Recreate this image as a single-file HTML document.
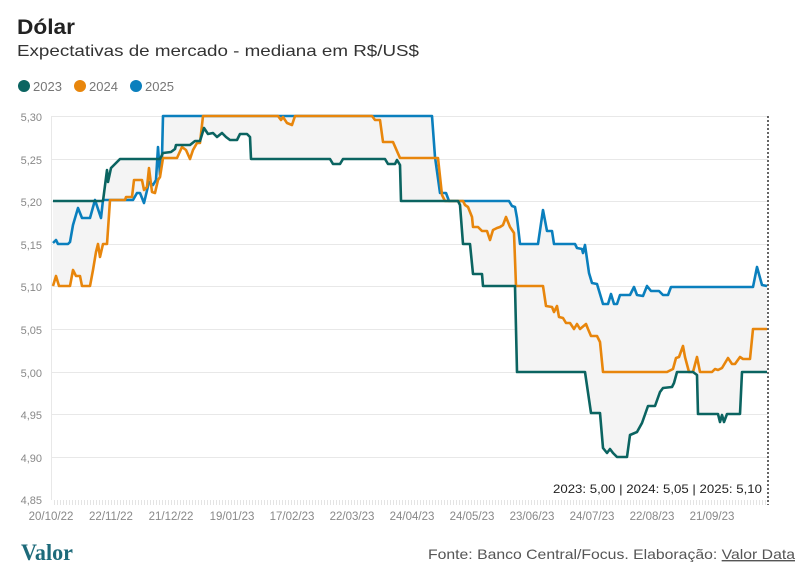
<!DOCTYPE html>
<html><head><meta charset="utf-8"><style>
html,body{margin:0;padding:0;background:#fff;width:812px;height:578px;overflow:hidden;font-family:"Liberation Sans",sans-serif}
</style></head><body>
<svg width="812" height="578" xmlns="http://www.w3.org/2000/svg" font-family="Liberation Sans, sans-serif">
<defs>
<clipPath id="under">
<polygon points="53,201 103,201 107,170 108,182 111,168 120,159 160,159 163,153 171,152 175,149 176,145 190,145 195,141 200,141 204,128 208,134 213,133 217,137 222,133 226,137 230,140 237,140 240,134 247,134 250,137 251,159 330,159 333,164 340,164 343,159 385,159 388,164 395,164 397,160 400,165 401,201 458,201 460,205 463,244 470,244 473,274 482,274 483,286 515,286 517,372 585,372 591,413 600,413 603,448 607,453 610,449 613,453 617,457 627,457 630,435 637,432 642,423 648,406 655,406 660,392 663,388 672,387 674,383 677,372 693,372 697,375 698,414 718,414 720,422 722,415 724,422 727,414 740,414 742,372 767,372 767,520 53,520"/>
<polygon points="53,286 56,276 59,286 70,286 73,270 76,276 80,276 82,286 90,286 93,270 96,252 98,244 100,257 103,244 107,244 109,215 110,200 125,200 126,197 132,197 134,180 142,180 144,190 147,187 149,168 152,192 155,193 158,180 160,177 163,158 177,158 182,147 186,150 190,159 193,150 197,143 200,143 203,116 278,116 281,120 283,117 287,123 292,125 295,116 372,116 375,120 380,120 383,142 393,142 400,158 438,158 442,195 445,201 463,201 465,205 468,207 472,217 473,227 478,227 482,231 487,231 490,240 493,230 497,228 500,227 503,225 506,217 510,227 514,233 516,286 543,286 546,306 552,307 554,312 557,306 559,317 563,318 566,323 570,323 574,329 577,324 580,329 586,324 588,329 591,336 597,336 600,342 603,372 667,372 673,369 676,358 679,357 683,346 685,357 689,372 693,372 697,357 700,372 712,372 715,369 718,370 722,368 728,358 732,364 735,364 740,357 743,359 750,359 753,329 767,329 767,520 53,520"/>
<polygon points="53,243 56,240 58,244 68,244 70,242 73,225 78,208 82,218 90,218 95,200 101,218 103,200 133,200 137,193 140,193 144,203 149,182 153,185 156,180 158,147 160,175 162,157 163,116 432,116 435,157 440,193 446,193 449,201 509,201 512,206 515,207 517,218 520,244 538,244 543,210 547,231 552,231 554,244 575,244 577,248 582,249 583,253 585,245 589,273 592,283 597,284 603,304 608,304 611,294 614,304 617,304 620,295 630,295 634,287 637,295 643,296 647,286 651,291 659,291 663,295 668,295 671,287 753,287 757,267 762,285 767,286 767,520 53,520"/>
</clipPath>
<clipPath id="above">
<polygon points="53,201 103,201 107,170 108,182 111,168 120,159 160,159 163,153 171,152 175,149 176,145 190,145 195,141 200,141 204,128 208,134 213,133 217,137 222,133 226,137 230,140 237,140 240,134 247,134 250,137 251,159 330,159 333,164 340,164 343,159 385,159 388,164 395,164 397,160 400,165 401,201 458,201 460,205 463,244 470,244 473,274 482,274 483,286 515,286 517,372 585,372 591,413 600,413 603,448 607,453 610,449 613,453 617,457 627,457 630,435 637,432 642,423 648,406 655,406 660,392 663,388 672,387 674,383 677,372 693,372 697,375 698,414 718,414 720,422 722,415 724,422 727,414 740,414 742,372 767,372 767,100 53,100"/>
<polygon points="53,286 56,276 59,286 70,286 73,270 76,276 80,276 82,286 90,286 93,270 96,252 98,244 100,257 103,244 107,244 109,215 110,200 125,200 126,197 132,197 134,180 142,180 144,190 147,187 149,168 152,192 155,193 158,180 160,177 163,158 177,158 182,147 186,150 190,159 193,150 197,143 200,143 203,116 278,116 281,120 283,117 287,123 292,125 295,116 372,116 375,120 380,120 383,142 393,142 400,158 438,158 442,195 445,201 463,201 465,205 468,207 472,217 473,227 478,227 482,231 487,231 490,240 493,230 497,228 500,227 503,225 506,217 510,227 514,233 516,286 543,286 546,306 552,307 554,312 557,306 559,317 563,318 566,323 570,323 574,329 577,324 580,329 586,324 588,329 591,336 597,336 600,342 603,372 667,372 673,369 676,358 679,357 683,346 685,357 689,372 693,372 697,357 700,372 712,372 715,369 718,370 722,368 728,358 732,364 735,364 740,357 743,359 750,359 753,329 767,329 767,100 53,100"/>
<polygon points="53,243 56,240 58,244 68,244 70,242 73,225 78,208 82,218 90,218 95,200 101,218 103,200 133,200 137,193 140,193 144,203 149,182 153,185 156,180 158,147 160,175 162,157 163,116 432,116 435,157 440,193 446,193 449,201 509,201 512,206 515,207 517,218 520,244 538,244 543,210 547,231 552,231 554,244 575,244 577,248 582,249 583,253 585,245 589,273 592,283 597,284 603,304 608,304 611,294 614,304 617,304 620,295 630,295 634,287 637,295 643,296 647,286 651,291 659,291 663,295 668,295 671,287 753,287 757,267 762,285 767,286 767,100 53,100"/>
</clipPath>
<pattern id="hatch" width="3" height="5" patternUnits="userSpaceOnUse"><rect width="3" height="5" fill="#fff"/><rect width="1" height="5" fill="#e4e4e4"/></pattern>
</defs>

<text x="17" y="34" font-size="21" font-weight="bold" fill="#222" textLength="58" lengthAdjust="spacingAndGlyphs">Dólar</text>
<text x="17" y="56" font-size="16" fill="#333" textLength="402" lengthAdjust="spacingAndGlyphs">Expectativas de mercado - mediana em R$/US$</text>
<circle cx="24" cy="86" r="6" fill="#0b6461"/><text x="33" y="91" font-size="13" fill="#777">2023</text>
<circle cx="80" cy="86" r="6" fill="#e8860c"/><text x="89" y="91" font-size="13" fill="#777">2024</text>
<circle cx="136" cy="86" r="6" fill="#0a7fbd"/><text x="145" y="91" font-size="13" fill="#777">2025</text>

<g stroke="#e8e8e8" stroke-width="1">
<line x1="52" y1="116.5" x2="768" y2="116.5"/><line x1="52" y1="159.5" x2="768" y2="159.5"/><line x1="52" y1="201.5" x2="768" y2="201.5"/><line x1="52" y1="244.5" x2="768" y2="244.5"/><line x1="52" y1="286.5" x2="768" y2="286.5"/><line x1="52" y1="329.5" x2="768" y2="329.5"/><line x1="52" y1="372.5" x2="768" y2="372.5"/><line x1="52" y1="414.5" x2="768" y2="414.5"/><line x1="52" y1="457.5" x2="768" y2="457.5"/>
<line x1="51.5" y1="116" x2="51.5" y2="500"/>
</g>
<rect x="52" y="500" width="716" height="5" fill="url(#hatch)"/>
<g fill="#888" font-size="11" text-anchor="end">
<text x="42" y="121">5,30</text><text x="42" y="164">5,25</text><text x="42" y="206">5,20</text><text x="42" y="249">5,15</text><text x="42" y="291">5,10</text><text x="42" y="334">5,05</text><text x="42" y="377">5,00</text><text x="42" y="419">4,95</text><text x="42" y="462">4,90</text><text x="42" y="504">4,85</text>
</g>
<g fill="#888" font-size="11.5" text-anchor="middle">
<text x="51" y="520">20/10/22</text><text x="111" y="520">22/11/22</text><text x="171" y="520">21/12/22</text><text x="232" y="520">19/01/23</text><text x="292" y="520">17/02/23</text><text x="352" y="520">22/03/23</text><text x="412" y="520">24/04/23</text><text x="472" y="520">24/05/23</text><text x="532" y="520">23/06/23</text><text x="592" y="520">24/07/23</text><text x="652" y="520">22/08/23</text><text x="712" y="520">21/09/23</text>
</g>

<g clip-path="url(#under)"><rect x="50" y="100" width="720" height="420" fill="#f4f4f4" clip-path="url(#above)"/></g>

<g fill="none" stroke-width="2.6" stroke-linejoin="round">
<polyline stroke="#0a7fbd" points="53,243 56,240 58,244 68,244 70,242 73,225 78,208 82,218 90,218 95,200 101,218 103,200 133,200 137,193 140,193 144,203 149,182 153,185 156,180 158,147 160,175 162,157 163,116 432,116 435,157 440,193 446,193 449,201 509,201 512,206 515,207 517,218 520,244 538,244 543,210 547,231 552,231 554,244 575,244 577,248 582,249 583,253 585,245 589,273 592,283 597,284 603,304 608,304 611,294 614,304 617,304 620,295 630,295 634,287 637,295 643,296 647,286 651,291 659,291 663,295 668,295 671,287 753,287 757,267 762,285 767,286"/>
<polyline stroke="#e8860c" points="53,286 56,276 59,286 70,286 73,270 76,276 80,276 82,286 90,286 93,270 96,252 98,244 100,257 103,244 107,244 109,215 110,200 125,200 126,197 132,197 134,180 142,180 144,190 147,187 149,168 152,192 155,193 158,180 160,177 163,158 177,158 182,147 186,150 190,159 193,150 197,143 200,143 203,116 278,116 281,120 283,117 287,123 292,125 295,116 372,116 375,120 380,120 383,142 393,142 400,158 438,158 442,195 445,201 463,201 465,205 468,207 472,217 473,227 478,227 482,231 487,231 490,240 493,230 497,228 500,227 503,225 506,217 510,227 514,233 516,286 543,286 546,306 552,307 554,312 557,306 559,317 563,318 566,323 570,323 574,329 577,324 580,329 586,324 588,329 591,336 597,336 600,342 603,372 667,372 673,369 676,358 679,357 683,346 685,357 689,372 693,372 697,357 700,372 712,372 715,369 718,370 722,368 728,358 732,364 735,364 740,357 743,359 750,359 753,329 767,329"/>
<polyline stroke="#0b6461" points="53,201 103,201 107,170 108,182 111,168 120,159 160,159 163,153 171,152 175,149 176,145 190,145 195,141 200,141 204,128 208,134 213,133 217,137 222,133 226,137 230,140 237,140 240,134 247,134 250,137 251,159 330,159 333,164 340,164 343,159 385,159 388,164 395,164 397,160 400,165 401,201 458,201 460,205 463,244 470,244 473,274 482,274 483,286 515,286 517,372 585,372 591,413 600,413 603,448 607,453 610,449 613,453 617,457 627,457 630,435 637,432 642,423 648,406 655,406 660,392 663,388 672,387 674,383 677,372 693,372 697,375 698,414 718,414 720,422 722,415 724,422 727,414 740,414 742,372 767,372"/>
</g>
<line x1="768" y1="116" x2="768" y2="505" stroke="#333" stroke-width="1.5" stroke-dasharray="2,2"/>
<text x="762" y="493" font-size="12" fill="#222" text-anchor="end" textLength="209" lengthAdjust="spacingAndGlyphs">2023: 5,00 | 2024: 5,05 | 2025: 5,10</text>

<text x="21" y="560" font-size="23" font-weight="bold" font-family="Liberation Serif, serif" fill="#1d6a7a" textLength="52" lengthAdjust="spacingAndGlyphs">Valor</text>
<text x="795" y="559" font-size="14" fill="#555" text-anchor="end" textLength="367" lengthAdjust="spacingAndGlyphs">Fonte: Banco Central/Focus. Elaboração: <tspan text-decoration="underline">Valor Data</tspan></text>
</svg>
</body></html>
